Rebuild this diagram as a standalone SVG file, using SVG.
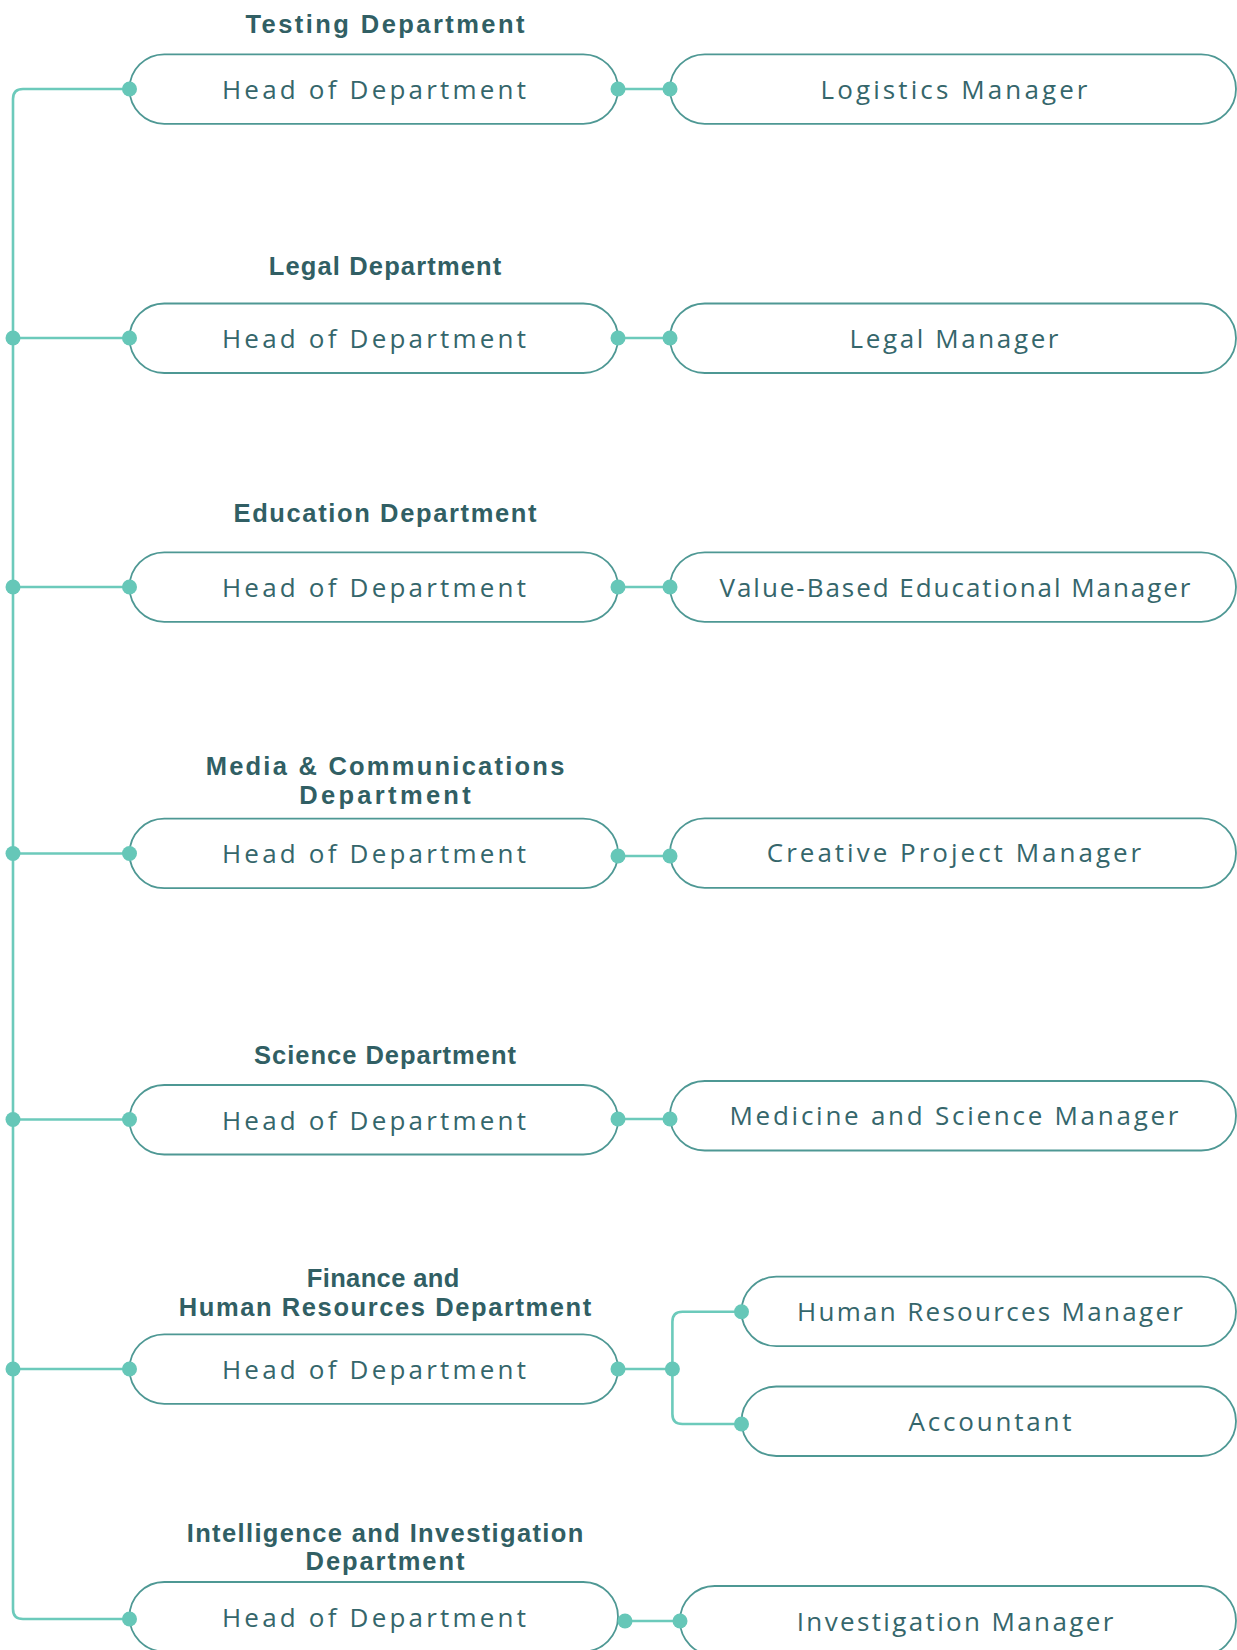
<svg xmlns="http://www.w3.org/2000/svg" width="1237" height="1650" viewBox="0 0 1237 1650">
<style>
.box{fill:#ffffff;stroke:#4e9894;stroke-width:1.8}
.conn{fill:none;stroke:#6ccabb;stroke-width:2.6}
.dot{fill:#66c7b8}
.title{font-family:"Liberation Sans",Arial,sans-serif;font-weight:bold;font-size:25.5px;fill:#315f64;text-anchor:middle}
.lbl{font-family:"Open Sans","Liberation Sans",Arial,sans-serif;font-size:26px;fill:#35666b;text-anchor:middle}
</style>
<rect width="1237" height="1650" fill="#ffffff"/>
<g id="connectors">
<path class="conn" d="M129.5,89 H23 Q13,89 13,99 V1609 Q13,1619 23,1619 H129.5"/>
<path class="conn" d="M13,338 H129.5"/>
<path class="conn" d="M13,587 H129.5"/>
<path class="conn" d="M13,853.5 H129.5"/>
<path class="conn" d="M13,1119.5 H129.5"/>
<path class="conn" d="M13,1369 H129.5"/>
<path class="conn" d="M618,89 H670"/>
<path class="conn" d="M618,338 H670"/>
<path class="conn" d="M618,587 H670"/>
<path class="conn" d="M618,856 H670"/>
<path class="conn" d="M618,1119 H670"/>
<path class="conn" d="M618,1369 H672.4"/>
<path class="conn" d="M741.5,1311.7 H682.4 Q672.4,1311.7 672.4,1321.7 V1414 Q672.4,1424 682.4,1424 H741.5"/>
<path class="conn" d="M625,1621 H680"/>
</g>
<g id="row1">
<text class="title" x="385" y="33" textLength="279">Testing Department</text>
<g id="head1"><rect class="box" x="129.5" y="54.3" width="488.5" height="69.5" rx="34.75"/><text class="lbl" x="374" y="99" textLength="304">Head of Department</text></g>
<g id="mgr1"><rect class="box" x="670" y="54.3" width="566" height="69.5" rx="34.75"/><text class="lbl" x="954" y="99" textLength="267">Logistics Manager</text></g>
</g>
<g id="row2">
<text class="title" x="385" y="274.5" textLength="232.5">Legal Department</text>
<g id="head2"><rect class="box" x="129.5" y="303.5" width="488.5" height="69.5" rx="34.75"/><text class="lbl" x="374" y="348" textLength="304">Head of Department</text></g>
<g id="mgr2"><rect class="box" x="670" y="303.5" width="566" height="69.5" rx="34.75"/><text class="lbl" x="954" y="348" textLength="209">Legal Manager</text></g>
</g>
<g id="row3">
<text class="title" x="385" y="521.7" textLength="303">Education Department</text>
<g id="head3"><rect class="box" x="129.5" y="552.3" width="488.5" height="69.5" rx="34.75"/><text class="lbl" x="374" y="597" textLength="304">Head of Department</text></g>
<g id="mgr3"><rect class="box" x="670" y="552.3" width="566" height="69.5" rx="34.75"/><text class="lbl" x="955" y="597" textLength="471">Value-Based Educational Manager</text></g>
</g>
<g id="row4">
<text class="title" x="385" y="775" textLength="358.7">Media &amp; Communications</text>
<text class="title" x="385" y="803.5" textLength="171.5">Department</text>
<g id="head4"><rect class="box" x="129.5" y="818.7" width="488.5" height="69.5" rx="34.75"/><text class="lbl" x="374" y="863" textLength="304">Head of Department</text></g>
<g id="mgr4"><rect class="box" x="670" y="818.3" width="566" height="69.5" rx="34.75"/><text class="lbl" x="954" y="862" textLength="374.5">Creative Project Manager</text></g>
</g>
<g id="row5">
<text class="title" x="385" y="1063.5" textLength="262">Science Department</text>
<g id="head5"><rect class="box" x="129.5" y="1085" width="488.5" height="69.5" rx="34.75"/><text class="lbl" x="374" y="1129.5" textLength="304">Head of Department</text></g>
<g id="mgr5"><rect class="box" x="670" y="1081" width="566" height="69.5" rx="34.75"/><text class="lbl" x="954" y="1124.5" textLength="449">Medicine and Science Manager</text></g>
</g>
<g id="row6">
<text class="title" x="383" y="1286.7" textLength="152.5">Finance and</text>
<text class="title" x="385" y="1316" textLength="412.4">Human Resources Department</text>
<g id="head6"><rect class="box" x="129.5" y="1334.3" width="488.5" height="69.5" rx="34.75"/><text class="lbl" x="374" y="1379" textLength="304">Head of Department</text></g>
<g id="mgr6a"><rect class="box" x="741.5" y="1276.7" width="494.5" height="69.5" rx="34.75"/><text class="lbl" x="990" y="1321" textLength="386">Human Resources Manager</text></g>
<g id="mgr6b"><rect class="box" x="741.5" y="1386.5" width="494.5" height="69.5" rx="34.75"/><text class="lbl" x="990" y="1431" textLength="163">Accountant</text></g>
</g>
<g id="row7">
<text class="title" x="385" y="1541.7" textLength="396.6">Intelligence and Investigation</text>
<text class="title" x="385" y="1570" textLength="158.8">Department</text>
<g id="head7"><rect class="box" x="129.5" y="1582" width="488.5" height="69.5" rx="34.75"/><text class="lbl" x="374" y="1626.5" textLength="304">Head of Department</text></g>
<g id="mgr7"><rect class="box" x="680" y="1586" width="556" height="69.5" rx="34.75"/><text class="lbl" x="955" y="1631" textLength="316.6">Investigation Manager</text></g>
</g>
<g id="dots">
<circle class="dot" cx="13" cy="338" r="7.5"/>
<circle class="dot" cx="13" cy="587" r="7.5"/>
<circle class="dot" cx="13" cy="853.5" r="7.5"/>
<circle class="dot" cx="13" cy="1119.5" r="7.5"/>
<circle class="dot" cx="13" cy="1369" r="7.5"/>
<circle class="dot" cx="129.5" cy="89" r="7.5"/>
<circle class="dot" cx="129.5" cy="338" r="7.5"/>
<circle class="dot" cx="129.5" cy="587" r="7.5"/>
<circle class="dot" cx="129.5" cy="853.5" r="7.5"/>
<circle class="dot" cx="129.5" cy="1119.5" r="7.5"/>
<circle class="dot" cx="129.5" cy="1369" r="7.5"/>
<circle class="dot" cx="129.5" cy="1619" r="7.5"/>
<circle class="dot" cx="618" cy="89" r="7.5"/>
<circle class="dot" cx="670" cy="89" r="7.5"/>
<circle class="dot" cx="618" cy="338" r="7.5"/>
<circle class="dot" cx="670" cy="338" r="7.5"/>
<circle class="dot" cx="618" cy="587" r="7.5"/>
<circle class="dot" cx="670" cy="587" r="7.5"/>
<circle class="dot" cx="618" cy="856" r="7.5"/>
<circle class="dot" cx="670" cy="856" r="7.5"/>
<circle class="dot" cx="618" cy="1119" r="7.5"/>
<circle class="dot" cx="670" cy="1119" r="7.5"/>
<circle class="dot" cx="618" cy="1369" r="7.5"/>
<circle class="dot" cx="672.4" cy="1369" r="7.5"/>
<circle class="dot" cx="741.5" cy="1311.7" r="7.5"/>
<circle class="dot" cx="741.5" cy="1424" r="7.5"/>
<circle class="dot" cx="625" cy="1621" r="7.5"/>
<circle class="dot" cx="680" cy="1621" r="7.5"/>
</g>
</svg>
